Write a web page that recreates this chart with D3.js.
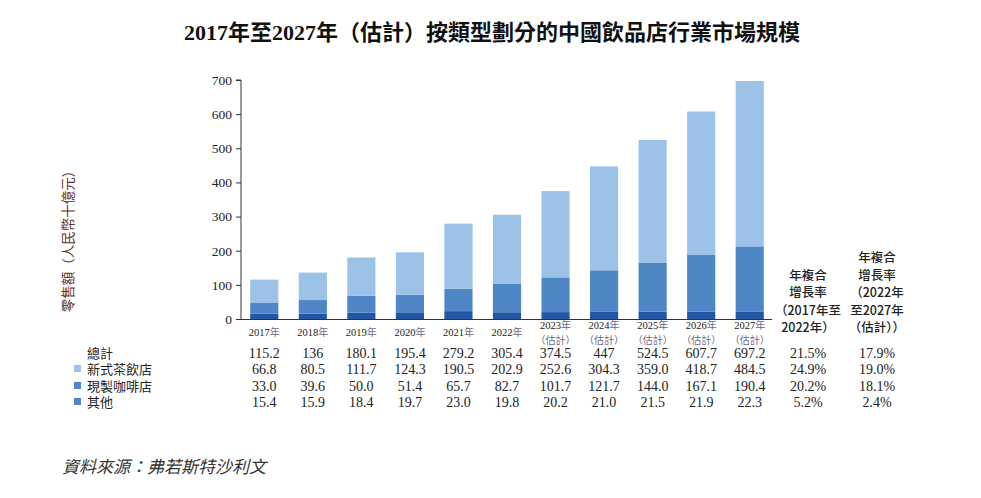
<!DOCTYPE html>
<html lang="zh-Hant">
<head>
<meta charset="utf-8">
<title>中國飲品店行業市場規模</title>
<script src="https://cdn.jsdelivr.net/npm/d3@7"></script>
<style>
  body { margin: 0; background: #fff; }
  svg { display: block; }
</style>
</head>
<body>
<script>
// data
var years = ["2017", "2018", "2019", "2020", "2021", "2022", "2023", "2024", "2025", "2026", "2027"];
var estimated = [false, false, false, false, false, false, true, true, true, true, true];
var totals = ["115.2", "136", "180.1", "195.4", "279.2", "305.4", "374.5", "447", "524.5", "607.7", "697.2"];
var teaShops = [66.8, 80.5, 111.7, 124.3, 190.5, 202.9, 252.6, 304.3, 359.0, 418.7, 484.5];
var coffeeShops = [33.0, 39.6, 50.0, 51.4, 65.7, 82.7, 101.7, 121.7, 144.0, 167.1, 190.4];
var others = [15.4, 15.9, 18.4, 19.7, 23.0, 19.8, 20.2, 21.0, 21.5, 21.9, 22.3];
var seriesNames = ["其他", "現製咖啡店", "新式茶飲店"];
var cagr1 = ["21.5%", "24.9%", "20.2%", "5.2%"];
var cagr2 = ["17.9%", "19.0%", "18.1%", "2.4%"];
var yTicks = [0, 100, 200, 300, 400, 500, 600, 700];

var colors = { "其他": "#2356a5", "現製咖啡店": "#4f86c5", "新式茶飲店": "#9cc3e7" };
var serif = "'Liberation Serif', 'Times New Roman', 'Noto Sans CJK TC', serif";
var sans = "'Noto Sans CJK TC', 'Noto Sans', sans-serif";

var svg = d3.select("body").append("svg")
    .attr("width", 981)
    .attr("height", 498);

// title
svg.append("text")
    .attr("x", 492).attr("y", 40)
    .attr("text-anchor", "middle")
    .style("font-family", serif)
    .style("font-weight", "bold")
    .style("font-size", "22px")
    .attr("fill", "#111")
    .text("2017年至2027年（估計）按類型劃分的中國飲品店行業市場規模");

// scales
var x = d3.scaleBand().domain(years).range([240, 774]).paddingInner(0.42).paddingOuter(0.21);
var y = d3.scaleLinear().domain([0, 700]).range([319, 80]);

// stack the three series
var rows = years.map(function(yr, i) {
    return { year: yr, "其他": others[i], "現製咖啡店": coffeeShops[i], "新式茶飲店": teaShops[i] };
});
var stacked = d3.stack().keys(seriesNames)(rows);

svg.append("g")
    .selectAll("g")
    .data(stacked)
    .enter()
    .append("g")
    .attr("fill", function(d) { return colors[d.key]; })
    .selectAll("rect")
    .data(function(d) { return d; })
    .enter()
    .append("rect")
    .attr("x", function(d) { return x(d.data.year); })
    .attr("width", x.bandwidth())
    .attr("y", function(d) { return y(d[1]); })
    .attr("height", function(d) { return y(d[0]) - y(d[1]); });

// y axis
var yAxis = svg.append("g")
    .attr("transform", "translate(241,0)")
    .call(d3.axisLeft(y).tickValues(yTicks).tickSize(5).tickPadding(4));
yAxis.select(".domain").attr("stroke", "#333").attr("d", "M-5,80H0V319");
yAxis.selectAll(".tick line").attr("stroke", "#333");
yAxis.selectAll(".tick text")
    .attr("fill", "#222")
    .attr("font-family", "Liberation Serif")
    .attr("font-size", 13.5);

// x axis baseline
svg.append("line")
    .attr("x1", 241).attr("x2", 772)
    .attr("y1", 319.5).attr("y2", 319.5)
    .attr("stroke", "#333");

// x labels
var xl = svg.append("g").selectAll("g")
    .data(years)
    .enter()
    .append("g")
    .attr("transform", function(d) { return "translate(" + (x(d) + x.bandwidth() / 2) + ",0)"; });

xl.append("text")
    .attr("text-anchor", "middle")
    .attr("y", function(d, i) { return estimated[i] ? 329 : 336; })
    .style("font-family", serif)
    .style("font-size", "10.5px")
    .attr("fill", "#222")
    .each(function(d) {
        d3.select(this).append("tspan").text(d);
        d3.select(this).append("tspan").attr("fill", "#6b6b85").style("font-family", sans).style("font-size", "10px").text("年");
    });

xl.filter(function(d, i) { return estimated[i]; })
    .append("text")
    .attr("text-anchor", "middle")
    .attr("y", 344)
    .style("font-family", sans)
    .style("font-size", "10px")
    .attr("fill", "#6b6b85")
    .text("（估計）");

// y axis title
svg.append("text")
    .attr("transform", "translate(73,238) rotate(-90)")
    .attr("text-anchor", "middle")
    .style("font-family", sans)
    .style("font-size", "13.5px")
    .attr("fill", "#5a3535")
    .text("零售額（人民幣十億元）");

// table
var tableRows = [
    { name: "總計", values: totals, cagrA: cagr1[0], cagrB: cagr2[0], color: null },
    { name: "新式茶飲店", values: teaShops.map(function(v) { return v.toFixed(1); }), cagrA: cagr1[1], cagrB: cagr2[1], color: colors["新式茶飲店"] },
    { name: "現製咖啡店", values: coffeeShops.map(function(v) { return v.toFixed(1); }), cagrA: cagr1[2], cagrB: cagr2[2], color: colors["現製咖啡店"] },
    { name: "其他", values: others.map(function(v) { return v.toFixed(1); }), cagrA: cagr1[3], cagrB: cagr2[3], color: colors["現製咖啡店"] }
];
var rowY = [358, 374, 391, 407];
var colA = 808, colB = 877;

var tr = svg.append("g").selectAll("g")
    .data(tableRows)
    .enter()
    .append("g")
    .attr("transform", function(d, i) { return "translate(0," + rowY[i] + ")"; });

tr.filter(function(d) { return d.color; })
    .append("rect")
    .attr("x", 74).attr("y", -9)
    .attr("width", 7).attr("height", 7)
    .attr("fill", function(d) { return d.color; });

tr.append("text")
    .attr("x", 87)
    .style("font-family", serif)
    .style("font-size", "13px")
    .attr("fill", "#222")
    .text(function(d) { return d.name; });

tr.selectAll("text.v")
    .data(function(d) { return d.values; })
    .enter()
    .append("text")
    .attr("class", "v")
    .attr("x", function(d, i) { return x(years[i]) + x.bandwidth() / 2; })
    .attr("text-anchor", "middle")
    .style("font-family", serif)
    .style("font-size", "14px")
    .attr("fill", "#222")
    .text(function(d) { return d; });

tr.append("text")
    .attr("x", colA).attr("text-anchor", "middle")
    .style("font-family", serif).style("font-size", "14px").attr("fill", "#222")
    .text(function(d) { return d.cagrA; });

tr.append("text")
    .attr("x", colB).attr("text-anchor", "middle")
    .style("font-family", serif).style("font-size", "14px").attr("fill", "#222")
    .text(function(d) { return d.cagrB; });

// CAGR headers
var headA = ["年複合", "增長率", "（2017年至", "2022年）"];
var headB = ["年複合", "增長率", "（2022年", "至2027年", "（估計））"];

function header(lines, cx, lastY) {
    svg.append("g").selectAll("text")
        .data(lines)
        .enter()
        .append("text")
        .attr("x", cx)
        .attr("y", function(d, i) { return lastY - (lines.length - 1 - i) * 17.5; })
        .attr("text-anchor", "middle")
        .style("font-family", sans)
        .style("font-size", "12.5px")
        .style("font-weight", "500")
        .attr("fill", "#222")
        .text(function(d) { return d; });
}
header(headA, colA, 332);
header(headB, colB, 332);

// source
svg.append("text")
    .attr("x", 62).attr("y", 473)
    .style("font-family", sans)
    .style("font-size", "17px")
    .style("font-style", "italic")
    .attr("fill", "#333")
    .text("資料來源：弗若斯特沙利文");
</script>
</body>
</html>
